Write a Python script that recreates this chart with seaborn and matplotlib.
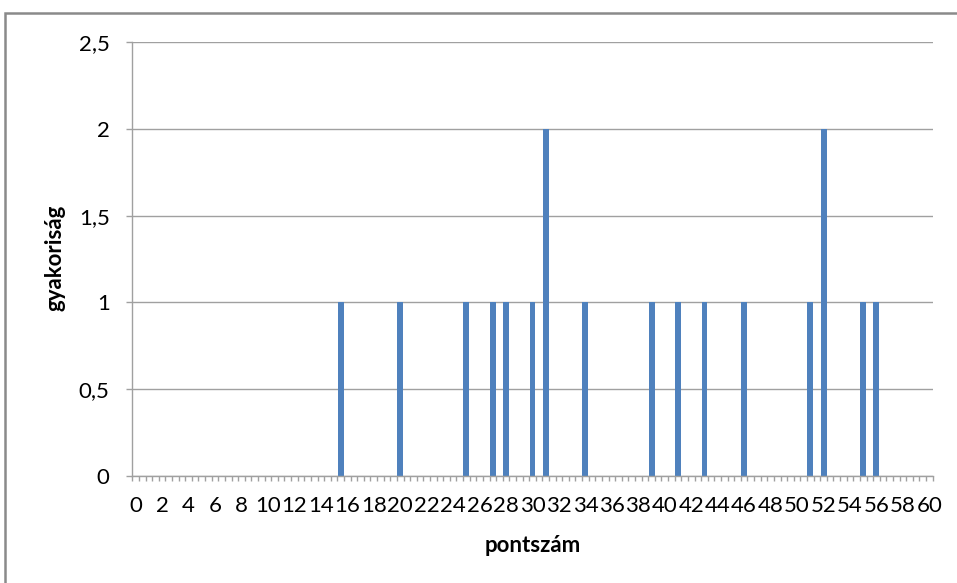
import numpy as np
import pandas as pd
import matplotlib
matplotlib.use("Agg")
import matplotlib.pyplot as plt
import seaborn as sns
from matplotlib.patches import Rectangle

# ---- data ----
categories = np.arange(0, 60.5, 0.5)          # category axis: 0, 0.5, ..., 60
scores = [15.5, 20, 25, 27, 28, 30, 31, 34, 39, 41, 43, 46, 51, 52, 55, 56]
counts = [1, 1, 1, 1, 1, 1, 2, 1, 1, 1, 1, 1, 1, 2, 1, 1]
x_tick_labels = [str(v) for v in range(0, 61, 2)]
y_ticks = [0, 0.5, 1, 1.5, 2, 2.5]
y_tick_labels = ["0", "0,5", "1", "1,5", "2", "2,5"]


def fmt(v):
    return str(int(v)) if float(v).is_integer() else str(v).replace(".", ",")


cat_names = [fmt(c) for c in categories]
freq = [counts[scores.index(c)] if c in scores else 0 for c in categories]
df = pd.DataFrame({"pontszám": cat_names, "gyakoriság": freq})

sns.set_theme(style="white")
plt.rcParams["font.family"] = ["Lato", "DejaVu Sans"]

fig = plt.figure(figsize=(9.57, 5.83), dpi=100)
W, H = 957, 583
left, right, top, bottom = 132.3, 932.7, 42, 476
ax = fig.add_axes([left / W, 1 - bottom / H, (right - left) / W, (bottom - top) / H])

grid_c = "#a0a0a0"
ax.set_axisbelow(True)
ax.yaxis.grid(True, color=grid_c, linewidth=1)
ax.xaxis.grid(False)

sns.barplot(data=df, x="pontszám", y="gyakoriság", order=cat_names,
            color="#4F81BD", saturation=1, width=0.9, linewidth=0, ax=ax)

ax.set_xlim(-0.5, len(categories) - 0.5)
ax.set_ylim(0, 2.5)

# x ticks: labels every 4th category, minor tick marks at category boundaries
ax.set_xticks(range(0, len(categories), 4))
ax.set_xticklabels(x_tick_labels, fontsize=16, color="black")
ax.set_xticks(np.arange(-0.5, len(categories), 1), minor=True)
ax.tick_params(axis="x", which="major", length=0, pad=14.5)
ax.tick_params(axis="x", which="minor", length=3.8, width=1, color=grid_c, direction="out", bottom=True)

ax.set_yticks(y_ticks)
ax.set_yticklabels(y_tick_labels, fontsize=16, color="black")
ax.tick_params(axis="y", which="major", length=4.3, width=1, color=grid_c, direction="out", left=True, pad=12)

for s in ["top", "right"]:
    ax.spines[s].set_visible(False)
for s in ["left", "bottom"]:
    ax.spines[s].set_color(grid_c)
    ax.spines[s].set_linewidth(1)

ax.set_xlabel("")
ax.set_ylabel("")
fig.text(533 / W, 1 - 545 / H, "pontszám", fontsize=16, fontweight="bold",
         color="black", ha="center", va="center")
fig.text(55 / W, 1 - 257.5 / H, "gyakoriság", fontsize=16, fontweight="bold",
         color="black", ha="center", va="center", rotation=90)

# outer chart-area frame (cropped at right and bottom)
fig.patches.append(Rectangle((5 / W, -0.05), 1.1, 1 - 12.7 / H + 0.05,
                             transform=fig.transFigure, fill=False,
                             edgecolor="#8a8a8a", linewidth=1.8, zorder=0))

fig.savefig("out.png", dpi=100)
